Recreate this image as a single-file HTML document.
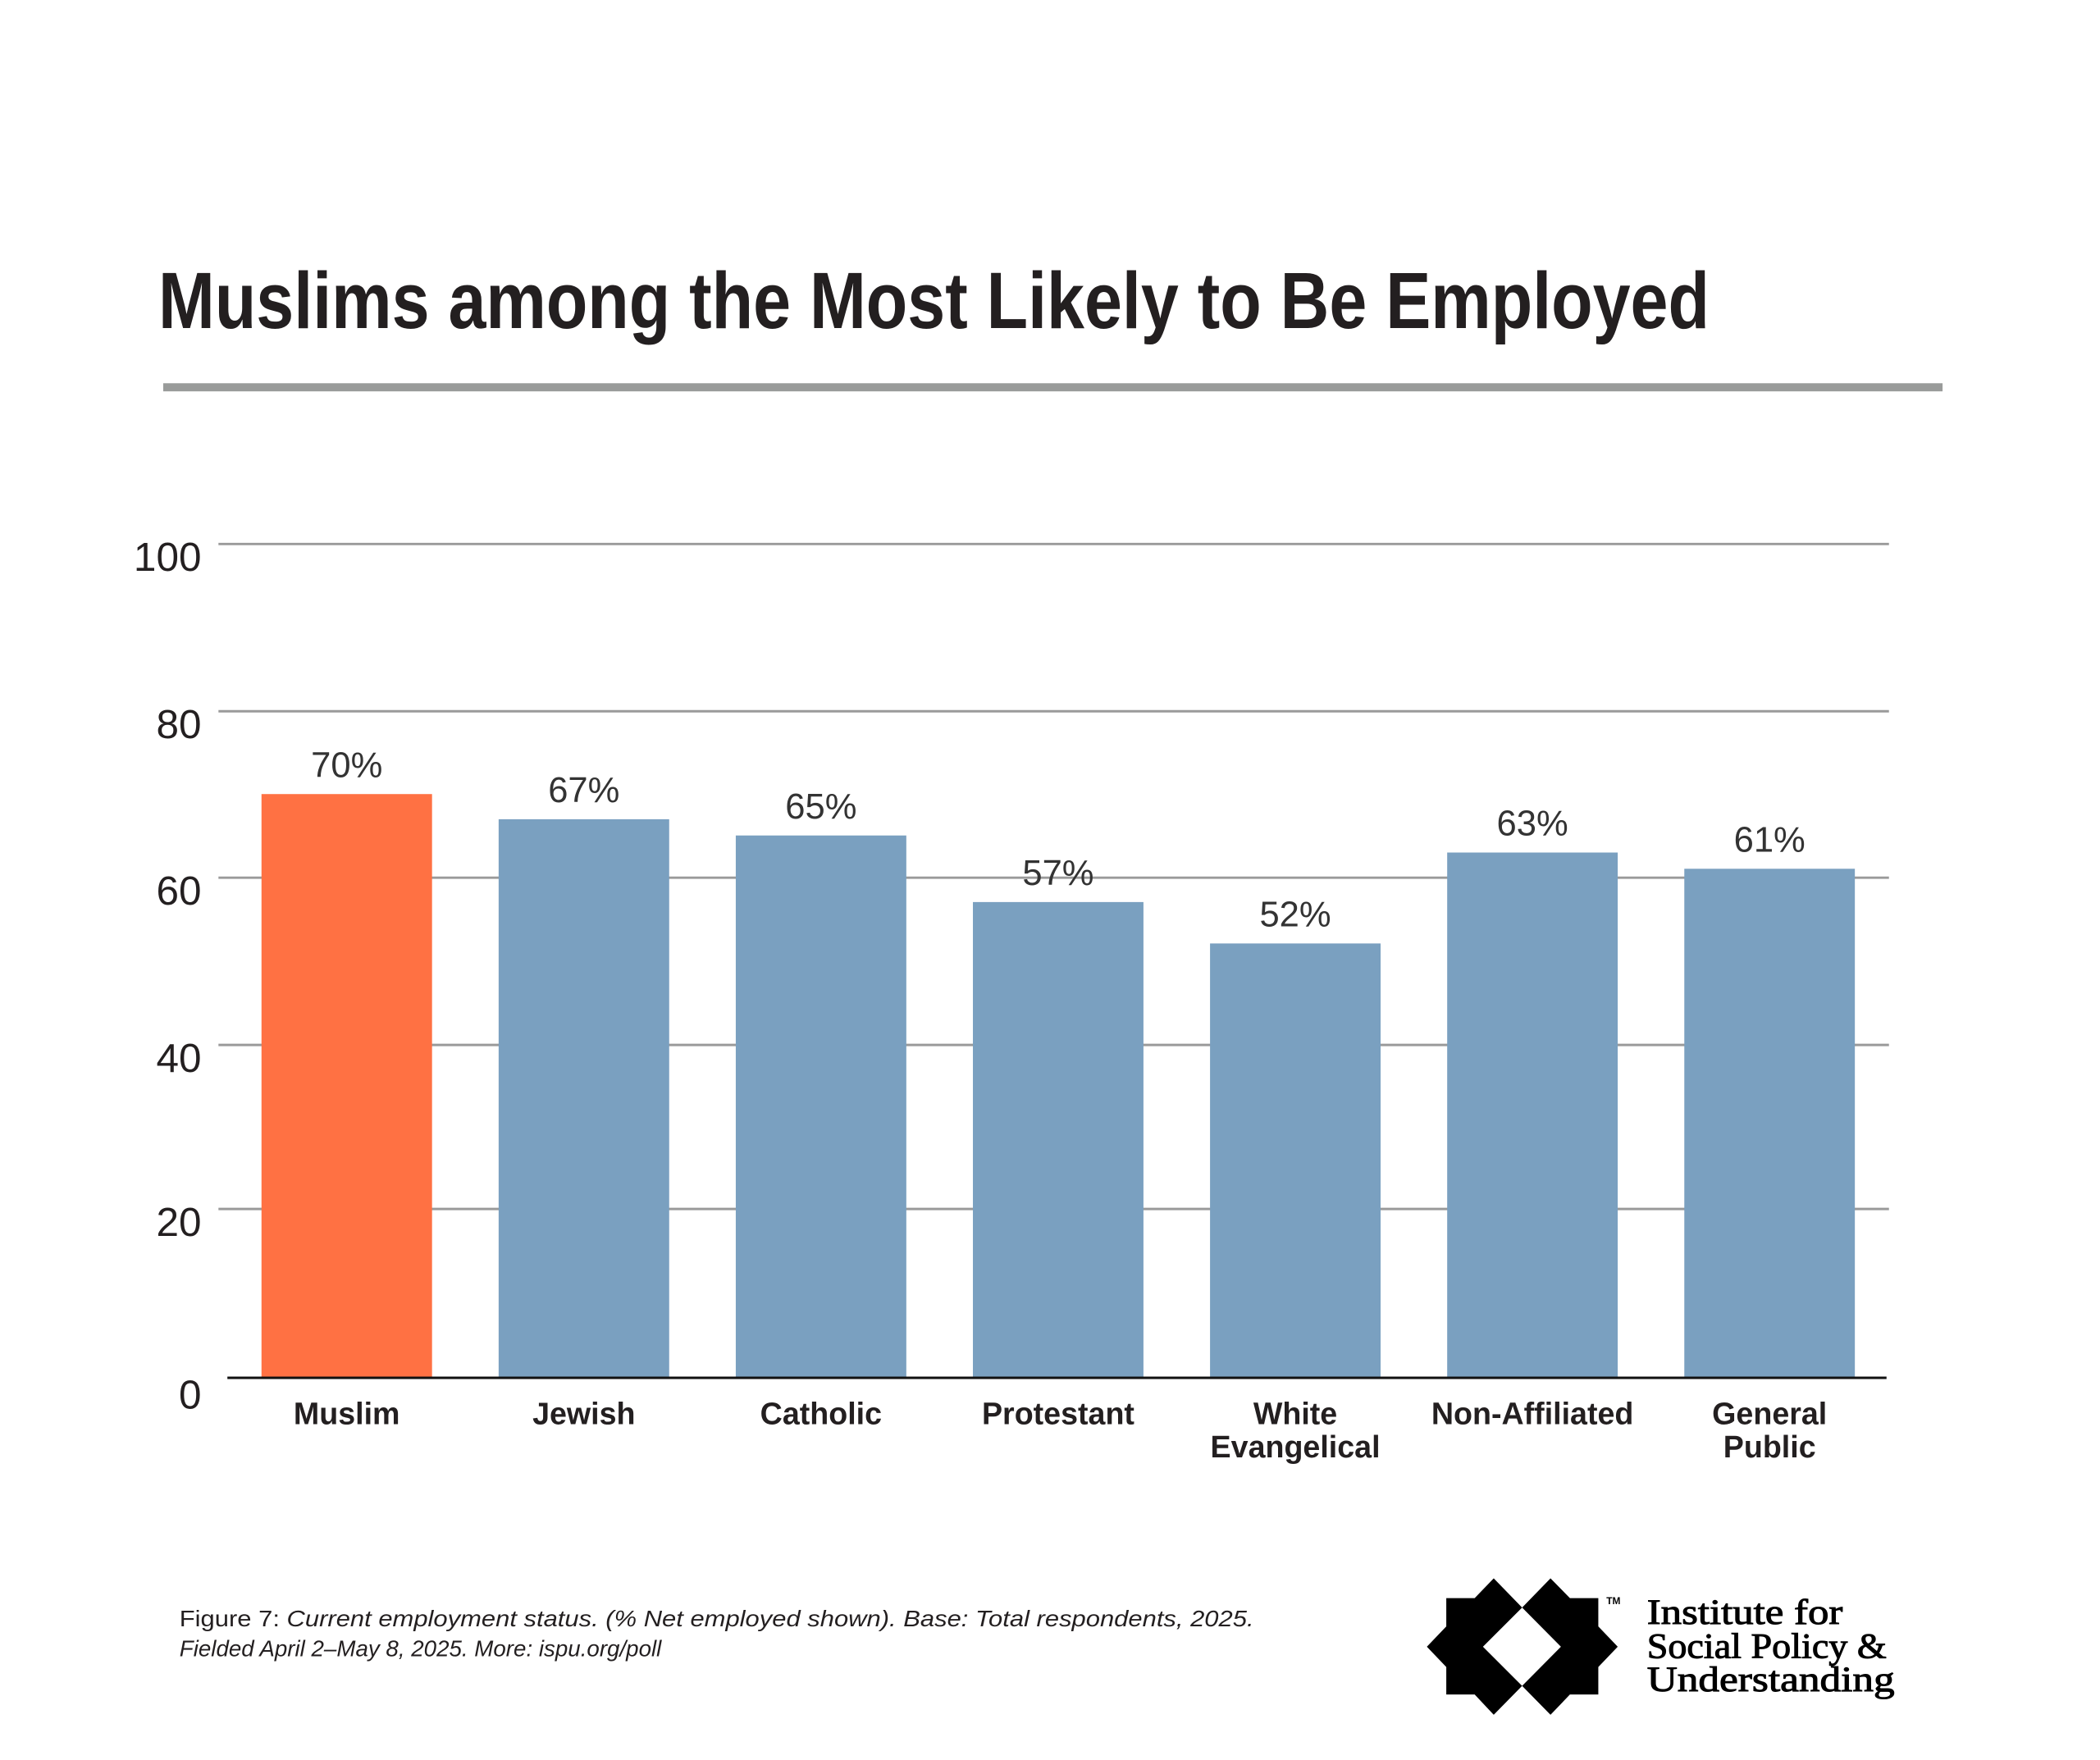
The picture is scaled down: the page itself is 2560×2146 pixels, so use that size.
<!DOCTYPE html>
<html><head><meta charset="utf-8"><style>
html,body{margin:0;padding:0;background:#fff;}
svg{display:block;}
</style></head><body>
<svg width="2560" height="2146" viewBox="0 0 2560 2146" xmlns="http://www.w3.org/2000/svg">
<rect width="2560" height="2146" fill="#fff"/>
<g transform="scale(0.99)">
<text x="195" y="404" font-family="Liberation Sans Narrow, Liberation Sans, sans-serif" font-weight="bold" font-size="98" fill="#231f20" textLength="1910" lengthAdjust="spacingAndGlyphs">Muslims among the Most Likely to Be Employed</text>
<rect x="201" y="472" width="2191" height="10" fill="#999b9a"/>
<g stroke="#9a9a9a" stroke-width="3">
<line x1="269" y1="670" x2="2326" y2="670"/>
<line x1="269" y1="876" x2="2326" y2="876"/>
<line x1="269" y1="1081" x2="2326" y2="1081"/>
<line x1="269" y1="1287" x2="2326" y2="1287"/>
<line x1="269" y1="1489" x2="2326" y2="1489"/>
</g>
<g font-family="Liberation Sans Narrow, Liberation Sans, sans-serif" font-size="50" fill="#231f20" text-anchor="end">
<text x="248" y="703">100</text>
<text x="248" y="909">80</text>
<text x="248" y="1114">60</text>
<text x="248" y="1320">40</text>
<text x="248" y="1522">20</text>
<text x="248" y="1735">0</text>
</g>
<g fill="#7aa0c0">
<rect x="322" y="978" width="210" height="718" fill="#ff7143"/>
<rect x="614" y="1009" width="210" height="687"/>
<rect x="906" y="1029" width="210" height="667"/>
<rect x="1198" y="1111" width="210" height="585"/>
<rect x="1490" y="1162" width="210" height="534"/>
<rect x="1782" y="1050" width="210" height="646"/>
<rect x="2074" y="1070" width="210" height="626"/>
</g>
<line x1="280" y1="1697" x2="2323" y2="1697" stroke="#111" stroke-width="3"/>
<g font-family="Liberation Sans Narrow, Liberation Sans, sans-serif" font-size="44" fill="#333" text-anchor="middle">
<text x="427" y="957">70%</text>
<text x="719" y="988">67%</text>
<text x="1011" y="1008">65%</text>
<text x="1303" y="1090">57%</text>
<text x="1595" y="1141">52%</text>
<text x="1887" y="1029">63%</text>
<text x="2179" y="1049">61%</text>
</g>
<g font-family="Liberation Sans Narrow, Liberation Sans, sans-serif" font-weight="bold" font-size="38" fill="#231f20" text-anchor="middle">
<text x="427" y="1754">Muslim</text>
<text x="719" y="1754">Jewish</text>
<text x="1011" y="1754">Catholic</text>
<text x="1303" y="1754">Protestant</text>
<text x="1595" y="1754">White</text>
<text x="1595" y="1795">Evangelical</text>
<text x="1887" y="1754">Non-Affiliated</text>
<text x="2179" y="1754">General</text>
<text x="2179" y="1795">Public</text>
</g>
<g font-family="Liberation Sans, sans-serif" font-size="28" fill="#231f20">
<text x="221" y="2003" textLength="1323" lengthAdjust="spacingAndGlyphs">Figure 7: <tspan font-style="italic">Current employment status. (% Net employed shown). Base: Total respondents, 2025.</tspan></text>
<text x="221" y="2040" font-style="italic">Fielded April 2–May 8, 2025. More: ispu.org/poll</text>
</g>
<svg x="1757" y="1944" width="235" height="168" viewBox="87 127 531 505" preserveAspectRatio="none">
<path fill-rule="evenodd" fill="#000" d="M141,200 L220,200 L273,127 L352,235 L431,127 L485,200 L564,200 L564,305 L618,380 L564,455 L564,557 L485,557 L431,632 L352,525 L273,632 L220,557 L141,557 L141,455 L87,380 L141,305 Z M352,235 L460,380 L352,525 L243,380 Z"/>
</svg>
<text x="1978" y="1976" font-family="Liberation Sans, sans-serif" font-size="12" font-weight="bold">TM</text>
<g font-family="Liberation Serif, serif" font-size="44" fill="#000" stroke="#000" stroke-width="1">
<text x="2028" y="2000" textLength="241" lengthAdjust="spacingAndGlyphs">Institute for</text>
<text x="2028" y="2042" textLength="295" lengthAdjust="spacingAndGlyphs">Social Policy &amp;</text>
<text x="2028" y="2083" textLength="305" lengthAdjust="spacingAndGlyphs">Understanding</text>
</g>
</g>
</svg>
</body></html>
